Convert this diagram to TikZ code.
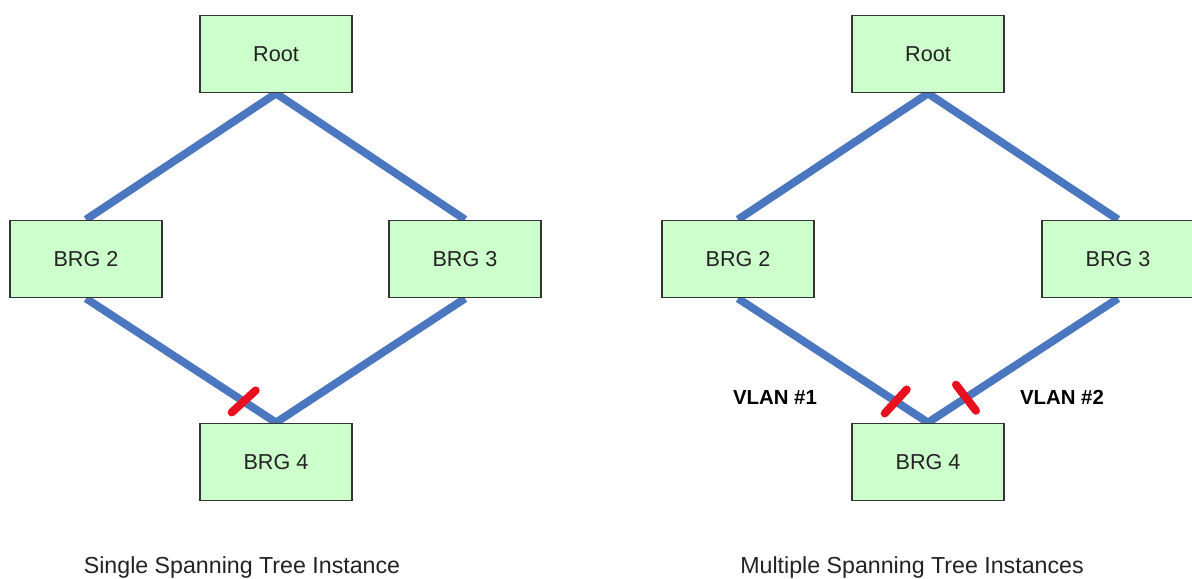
\documentclass[tikz,border=0pt]{standalone}
\usepackage{fontspec}
\setmainfont{Liberation Sans}
\usepackage{xcolor}
\usetikzlibrary{calc,backgrounds}
\definecolor{boxfill}{HTML}{CCFFCC}
\definecolor{boxline}{HTML}{333333}
\definecolor{linkblue}{HTML}{4A77C0}
\definecolor{blockred}{HTML}{E8101E}
\definecolor{ink}{HTML}{222222}
\tikzset{
  brg/.style={draw=boxline, fill=boxfill, line width=1.1pt, minimum width=3.04cm,
    minimum height=1.54cm, inner sep=0pt, text=ink, font=\fontsize{12.3}{14}\selectfont},
  link/.style={draw=linkblue, line width=4.5pt},
  cut/.style={draw=blockred, line width=4.6pt, line cap=round},
  vlan/.style={text=black, font=\bfseries\fontsize{11.6}{13}\selectfont},
  captxt/.style={text=ink, anchor=base, font=\fontsize{13.2}{15}\selectfont}
}

\begin{document}
\begin{tikzpicture}[x=0.02cm, y=-0.02cm]
  \useasboundingbox (0,0) rectangle (1192,578);

  % single instance
  \node[brg] (lroot) at (276,54)  {Root};
  \node[brg] (lbrg2) at (86,259)  {BRG 2};
  \node[brg] (lbrg3) at (465,259) {BRG 3};
  \node[brg] (lbrg4) at (276,462) {BRG 4};

  % multiple instances
  \node[brg] (rroot) at (928,54)   {Root};
  \node[brg] (rbrg2) at (738,259)  {BRG 2};
  \node[brg] (rbrg3) at (1118,259) {BRG 3};
  \node[brg] (rbrg4) at (928,462)  {BRG 4};

  \begin{scope}[on background layer]
    \draw[link] (lroot.south) -- (lbrg2.north);
    \draw[link] (lroot.south) -- (lbrg3.north);
    \draw[link] (lbrg2.south) -- (lbrg4.north);
    \draw[link] (lbrg3.south) -- (lbrg4.north);
    \draw[link] (rroot.south) -- (rbrg2.north);
    \draw[link] (rroot.south) -- (rbrg3.north);
    \draw[link] (rbrg2.south) -- (rbrg4.north);
    \draw[link] (rbrg3.south) -- (rbrg4.north);
  \end{scope}

  % blocked ports
  \coordinate (lcut)  at ($(lbrg2.south)!0.83!(lbrg4.north)$);
  \coordinate (rcut1) at ($(rbrg2.south)!0.83!(rbrg4.north)$);
  \coordinate (rcut2) at ($(rbrg3.south)!0.80!(rbrg4.north)$);
  \draw[cut] ($(lcut)+(-12,11)$) -- ($(lcut)+(12,-11)$);
  \draw[cut] ($(rcut1)+(-11,12)$) -- ($(rcut1)+(11,-12)$);
  \draw[cut] ($(rcut2)+(-10,-13)$) -- ($(rcut2)+(10,13)$);

  \node[vlan] (vlan1) at (775,397)  {VLAN \#1};
  \node[vlan] (vlan2) at (1062,397) {VLAN \#2};

  \node[captxt] (lcap) at (242,573) {Single Spanning Tree Instance};
  \node[captxt] (rcap) at (912,573) {Multiple Spanning Tree Instances};
\end{tikzpicture}
\end{document}
